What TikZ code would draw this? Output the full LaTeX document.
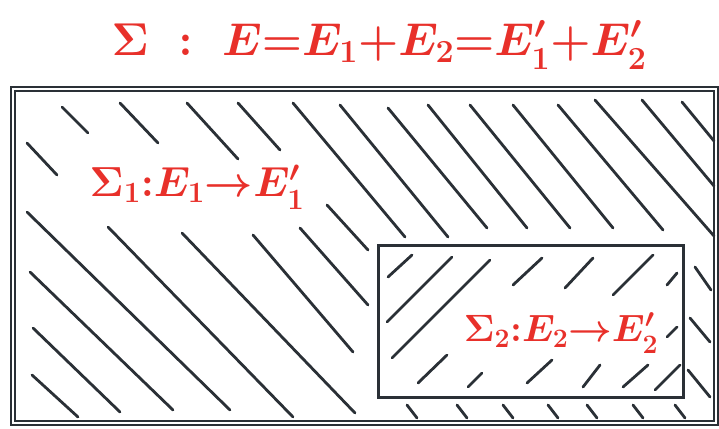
\RequirePackage{fix-cm}
\documentclass[tikz,border=0pt]{standalone}
\usepackage{xcolor}
\usepackage{amsmath}
\definecolor{markerRed}{HTML}{E8302A}
\definecolor{markerInk}{HTML}{2A3036}

\begin{document}
\begin{tikzpicture}[
    x=1pt, y=-1pt,
    line cap=round,
    frame/.style={draw=markerInk, line width=2.2pt, double=white, double distance=1.5pt},
    box/.style={draw=markerInk, line width=3pt},
    hatch/.style={draw=markerInk, line width=2.8pt},
    formula/.style={text=markerRed, inner sep=0pt}
]
    \useasboundingbox (0,0) rectangle (719,428);

    % whole system and the smaller part inside it
    \draw[frame] (13,89) rectangle (716,423);
    \draw[box] (378,245) rectangle (683,397);

    % hatching of the outer part
    \foreach \xa/\ya/\xb/\yb in {62/107/88/133, 120/103/158/143, 187/103/238/159, 238/103/280/150,
                       27/143/57/175, 293/103/405/237, 340/105/448/237, 388/108/487/228,
                       428/105/527/228, 470/105/570/228, 513/105/613/228, 558/105/663/230,
                       595/100/714/236, 642/100/714/186, 682/102/714/141,
                       327/205/368/250, 300/228/368/305, 253/235/353/352, 182/233/355/413,
                       108/227/293/417, 27/212/230/410, 30/272/173/410, 33/328/120/412,
                       32/375/78/417,
                       407/405/417/418, 457/405/467/418, 503/405/513/418, 548/405/558/418,
                       587/405/597/418, 633/405/643/418, 675/405/685/418,
                       695/267/711/290, 690/318/710/342, 688/370/710/397}
        \draw[hatch] (\xa,\ya) -- (\xb,\yb);

    % hatching of the inner part, the other way round
    \foreach \xa/\ya/\xb/\yb in {388/277/412/255, 387/322/452/257, 392/358/490/260,
                       513/285/542/258, 565/288/593/258, 613/295/653/255, 667/285/677/273,
                       418/383/447/355, 468/387/482/373, 527/383/552/360, 583/387/600/365,
                       623/387/648/365, 655/390/680/365, 667/337/677/327}
        \draw[hatch] (\xa,\ya) -- (\xb,\yb);

    % labels
    \node[formula, font=\fontsize{46}{52}\selectfont\boldmath] (sys) at (379,45)
        {$\Sigma\;:\;E{=}E_1{+}E_2{=}E_1'{+}E_2'$};
    \node[formula, font=\fontsize{42}{48}\selectfont\boldmath] (sysOne) at (197,187)
        {$\Sigma_1{:}E_1{\to}E_1'$};
    \node[formula, font=\fontsize{38}{44}\selectfont\boldmath] (sysTwo) at (561,333)
        {$\Sigma_2{:}E_2{\to}E_2'$};
\end{tikzpicture}
\end{document}
